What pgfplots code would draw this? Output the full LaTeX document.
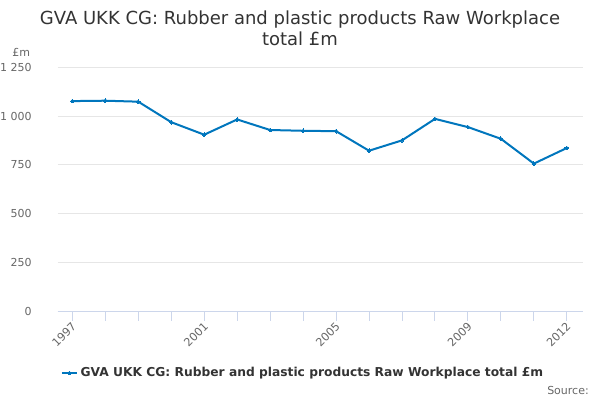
\documentclass[border=0pt]{standalone}
\usepackage{fontspec}
\setmainfont{DejaVu Sans}
\usepackage{pgfplots}
\pgfplotsset{compat=1.18}
\definecolor{series}{RGB}{0,118,189}
\definecolor{gridc}{RGB}{230,230,230}
\definecolor{axisc}{RGB}{204,214,235}
\definecolor{labc}{RGB}{102,102,102}
\definecolor{titc}{RGB}{51,51,51}
\begin{document}
\begin{tikzpicture}
\useasboundingbox (0,0) rectangle (450pt,300pt);
% title
\node[anchor=center, align=center, text=titc, font=\fontsize{13.5pt}{15.75pt}\selectfont]
  at (225pt,278.6pt) {GVA UKK CG: Rubber and plastic products Raw Workplace\\total £m};
\node[anchor=west, inner sep=0pt, text=labc, font=\fontsize{8.25pt}{10pt}\selectfont]
  at (9pt,261pt) {£m};
\begin{axis}[
    at={(43.125pt,66.375pt)}, anchor=south west,
    width=394.125pt, height=183.15pt, scale only axis,
    xmin=1996.55, xmax=2012.49,
    ymin=0, ymax=1250,
    axis x line*=bottom,
    axis y line*=left,
    x axis line style={draw=axisc, line width=0.75pt},
    y axis line style={draw=none},
    xtick={1997,2001,2005,2009,2012},
    minor xtick={1998,1999,2000,2002,2003,2004,2006,2007,2008,2010,2011},
    ytick={0,250,500,750,1000,1250},
    tick align=outside,
    major tick length=6.75pt,
    minor tick length=6.75pt,
    x tick style={draw=axisc, line width=0.75pt},
    y tick style={draw=none},
    ymajorgrids,
    grid style={draw=gridc, line width=0.75pt},
    /pgf/number format/assume math mode=true,
    /pgf/number format/1000 sep={\ },
    yticklabel style={anchor=east, inner sep=0pt, xshift=-12.4pt, text=labc,
      font=\fontsize{8.25pt}{10pt}\selectfont},
    xticklabel style={yshift=-3pt, xshift=1.5pt, rotate=45, anchor=east, inner sep=0pt,
      text=labc, font=\fontsize{8.4pt}{10pt}\selectfont,
      /pgf/number format/1000 sep={}},
    legend style={at={(-0.0015,-0.2518)}, anchor=west, draw=none, fill=none,
      font=\bfseries\fontsize{9.2pt}{11pt}\selectfont, text=titc,
      nodes={inner sep=2pt}},
    legend image code/.code={\draw[#1, mark repeat=2, mark phase=2]
      plot coordinates {(0pt,0pt) (5.6pt,0pt) (11.25pt,0pt)};},
    clip=false,
  ]
  \addplot[color=series, line width=1.5pt, mark=*, mark size=1.4pt,
    mark options={fill=series, draw=series, line width=0pt}] coordinates {
    (1997,1077) (1998,1079) (1999,1074) (2000,969) (2001,905)
    (2002,983) (2003,929) (2004,925) (2005,923) (2006,823)
    (2007,876) (2008,986) (2009,944) (2010,884) (2011,757) (2012,837)
  };
  \addlegendentry{GVA UKK CG: Rubber and plastic products Raw Workplace total £m}
\end{axis}
\node[anchor=east, inner sep=0pt, text=labc, font=\fontsize{8.25pt}{10pt}\selectfont]
  at (441.75pt,7.5pt) {Source:};
\end{tikzpicture}
\end{document}
